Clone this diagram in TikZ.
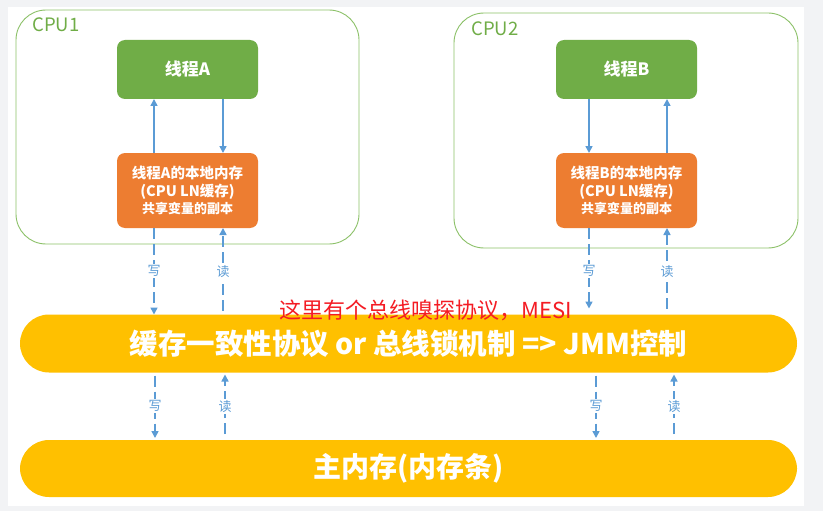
\documentclass[tikz,border=0pt]{standalone}
\usepackage{fontspec}
\setmainfont{Noto Sans CJK SC}
\usetikzlibrary{
  arrows.meta,
  positioning
}
\definecolor{bggray}{HTML}{F2F3F5}
\definecolor{cpuline}{HTML}{8CC168}
\definecolor{thrgreen}{HTML}{70AD47}
\definecolor{cacheorange}{HTML}{ED7D31}
\definecolor{busyellow}{HTML}{FFC000}
\definecolor{arrowblue}{HTML}{5B9BD5}
\definecolor{noteRed}{HTML}{F41C24}

\begin{document}
\begin{tikzpicture}[
  x=1pt, y=-1pt,
  node distance=54pt and 298pt,
  cpu/.style={draw=cpuline, line width=0.9pt, rounded corners=30pt, minimum width=344pt, minimum height=235pt, inner sep=0pt, outer sep=0pt},
  cpuname/.style={anchor=base west, inner sep=0pt, text=thrgreen, font=\fontsize{18.5}{20}\selectfont},
  thread/.style={fill=thrgreen, rounded corners=8pt, minimum width=141pt, minimum height=59pt, inner sep=0pt, outer sep=0pt, text=white, font=\bfseries\fontsize{17}{20}\selectfont},
  cache/.style={fill=cacheorange, rounded corners=8pt, minimum width=141pt, minimum height=75pt, inner sep=0pt, outer sep=0pt, text=white, align=center, font=\bfseries\fontsize{14.5}{17.5}\selectfont},
  bar/.style={fill=busyellow, rounded corners=29pt, minimum width=777pt, minimum height=58pt, inner sep=0pt, outer sep=0pt, text=white, font=\bfseries\fontsize{28.5}{34}\selectfont},
  link/.style={draw=arrowblue, line width=1.6pt, -{Triangle[width=7pt,length=7pt]}},
  rw/.style={link, dash pattern=on 11pt off 5pt},
  rwlabel/.style={fill=white, text=arrowblue, inner sep=1.5pt, font=\fontsize{13}{15}\selectfont}
]
\fill[bggray] (0,0) rectangle (823,511);
\fill[white] (8,7) rectangle (804,506);
\useasboundingbox (0,0) rectangle (823,511);

\node[cpu, minimum width=343pt, minimum height=234pt] (cpu1) at (187.5,127) {};
\node[cpu] (cpu2) at (626,130.5) {};
\node[cpuname] (cpu1name) at (32,32) {CPU1};
\node[cpuname] (cpu2name) at (471,36) {CPU2};

\node[thread] (thrA) at (187.5,69.5) {线程A};
\node[cache, below=of thrA] (memA) {线程A的本地内存\\(CPU LN缓存)\\{\fontsize{13}{16}\selectfont 共享变量的副本}};
\node[thread, right=of thrA] (thrB) {线程B};
\node[cache, below=of thrB] (memB) {线程B的本地内存\\(CPU LN缓存)\\{\fontsize{13}{16}\selectfont 共享变量的副本}};

\node[bar] (bus) at (408.5,343.5) {缓存一致性协议 or 总线锁机制 => JMM控制};
\node[bar, minimum height=57pt, font=\bfseries\fontsize{28}{34}\selectfont] (ram) at (408.5,468.5) {主内存(内存条)};
\node[text=noteRed, inner sep=0pt, font=\fontsize{22}{24}\selectfont] (snoop) at (425.5,310) {这里有个总线嗅探协议，MESI};

\draw[link] ([xshift=-33.5pt]memA.north) -- ([xshift=-33.5pt]thrA.south);
\draw[link] ([xshift=35.5pt]thrA.south) -- ([xshift=35.5pt]memA.north);
\draw[link] ([xshift=-37.5pt]thrB.south) -- ([xshift=-37.5pt]memB.north);
\draw[link] ([xshift=40.5pt]memB.north) -- ([xshift=40.5pt]thrB.south);

\draw[rw] ([xshift=-33.5pt]memA.south) -- ([xshift=-33.5pt]memA.south |- bus.north) node[rwlabel, midway] {写};
\draw[rw, shorten <=4pt] ([xshift=35.5pt]memA.south |- bus.north) -- ([xshift=35.5pt]memA.south) node[rwlabel, midway] {读};
\draw[rw, shorten >=6pt] ([xshift=-37.5pt]memB.south) -- ([xshift=-37.5pt]memB.south |- bus.north) node[rwlabel, midway] {写};
\draw[rw, shorten <=6pt] ([xshift=40.5pt]memB.south |- bus.north) -- ([xshift=40.5pt]memB.south) node[rwlabel, midway] {读};

\draw[rw, shorten <=3pt, shorten >=2pt] ([xshift=-32.5pt]memA.south |- bus.south) -- ([xshift=-32.5pt]memA.south |- ram.north) node[rwlabel, midway] {写};
\draw[rw, shorten <=6pt, shorten >=2pt] ([xshift=37.5pt]memA.south |- ram.north) -- ([xshift=37.5pt]memA.south |- bus.south) node[rwlabel, midway] {读};
\draw[rw, shorten <=3pt, shorten >=2pt] ([xshift=-30.5pt]memB.south |- bus.south) -- ([xshift=-30.5pt]memB.south |- ram.north) node[rwlabel, midway] {写};
\draw[rw, shorten <=6pt, shorten >=2pt] ([xshift=47.5pt]memB.south |- ram.north) -- ([xshift=47.5pt]memB.south |- bus.south) node[rwlabel, midway] {读};
\end{tikzpicture}
\end{document}
